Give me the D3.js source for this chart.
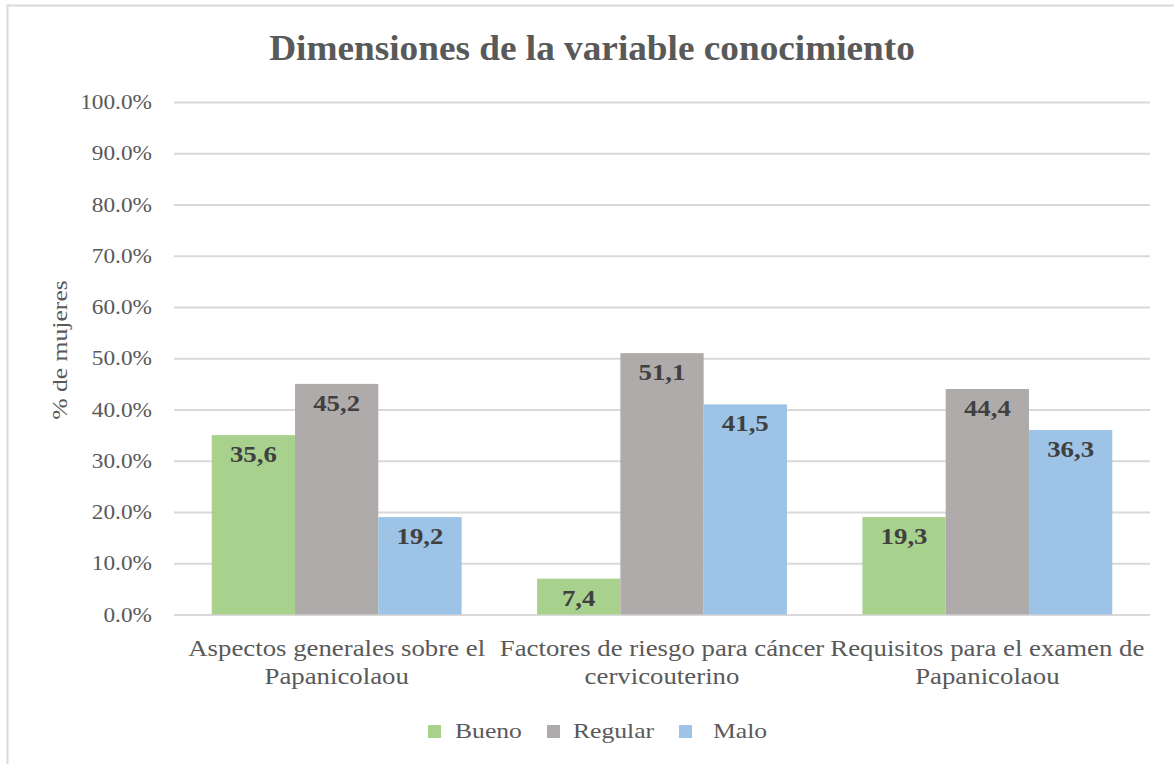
<!DOCTYPE html>
<html>
<head>
<meta charset="utf-8">
<script src="https://cdn.jsdelivr.net/npm/d3@7"></script>
<style>
  html, body { margin: 0; padding: 0; background: #ffffff; }
  svg { display: block; }
</style>
</head>
<body>
<svg id="chart" width="1174" height="764"></svg>
<script>
// ---- data ----
const title = "Dimensiones de la variable conocimiento";
const yAxisTitle = "% de mujeres";
const categories = [
  ["Aspectos generales sobre el", "Papanicolaou"],
  ["Factores de riesgo para cáncer", "cervicouterino"],
  ["Requisitos para el examen de", "Papanicolaou"]
];
const seriesNames = ["Bueno", "Regular", "Malo"];
const seriesColors = ["#a9d18e", "#afabab", "#9dc3e6"];
// bar heights as drawn in the picture (percent)
const bueno = [35, 7, 19];
const regular = [45, 51, 44];
const malo = [19, 41, 36];
// data labels as printed on the bars
const buenoLabels = ["35,6", "7,4", "19,3"];
const regularLabels = ["45,2", "51,1", "44,4"];
const maloLabels = ["19,2", "41,5", "36,3"];
const yTicks = [0, 10, 20, 30, 40, 50, 60, 70, 80, 90, 100];

const seriesValues = [bueno, regular, malo];
const seriesLabels = [buenoLabels, regularLabels, maloLabels];

// ---- font detection ----
const ctx = document.createElement("canvas").getContext("2d");
function measure(font, str) { ctx.font = font; return ctx.measureText(str).width; }
function available(f) {
  const s = "abcdefghijklmnopqrstuvwxyzABCDEFGHIJ0123456789%";
  return measure(`72px monospace`, s) !== measure(`72px "${f}", monospace`, s) ||
         measure(`72px sans-serif`, s) !== measure(`72px "${f}", sans-serif`, s);
}
const candidates = ["Liberation Serif", "Times New Roman", "Tinos", "Nimbus Roman", "DejaVu Serif", "Noto Serif"];
const serifFont = candidates.find(available) || "serif";
const FF = `"${serifFont}", serif`;

// horizontal stretch so text widths match the picture
const sx = 297 / measure(`23px ${FF}`, "Aspectos generales sobre el");
const sxTitle = 646 / measure(`bold 36px ${FF}`, title);

// ---- layout ----
const svg = d3.select("#chart").style("font-family", FF);
const W = 1174, H = 764;
const plot = { left: 174, right: 1150, top: 102, bottom: 614.5 };
const textColor = "#595959";

// outer frame
svg.append("rect")
  .attr("x", 7.5).attr("y", 5.5)
  .attr("width", W + 10).attr("height", H + 10)
  .attr("fill", "none").attr("stroke", "#d9d9d9").attr("stroke-width", 2);

const x0 = d3.scaleBand()
  .domain(d3.range(categories.length))
  .range([plot.left, plot.right])
  .paddingInner(0.232).paddingOuter(0.116);
const x1 = d3.scaleBand()
  .domain(d3.range(seriesNames.length))
  .range([0, x0.bandwidth()])
  .padding(0);
const y = d3.scaleLinear().domain([0, 100]).range([plot.bottom, plot.top]);

// gridlines + tick labels
const yAxis = d3.axisLeft(y)
  .tickValues(yTicks)
  .tickSize(-(plot.right - plot.left))
  .tickPadding(22)
  .tickFormat(d => d3.format(".1f")(d) + "%");
const gAxis = svg.append("g")
  .attr("transform", `translate(${plot.left},0)`)
  .call(yAxis);
gAxis.select(".domain").remove();
gAxis.selectAll(".tick line").attr("stroke", "#d9d9d9").attr("stroke-width", 2);
gAxis.selectAll(".tick text")
  .attr("x", 0).attr("dy", "0.33em")
  .attr("transform", `translate(-22,0) scale(${sx},1)`)
  .attr("fill", textColor)
  .style("font-size", "20px")
  .style("font-family", FF);

// bars
const groups = svg.append("g").selectAll("g")
  .data(categories.map((c, i) => i))
  .join("g")
  .attr("transform", i => `translate(${x0(i)},0)`);

const cells = i => seriesValues.map((s, k) => ({ k, v: s[i], label: seriesLabels[k][i] }));

groups.selectAll("rect")
  .data(cells)
  .join("rect")
  .attr("x", d => x1(d.k))
  .attr("y", d => y(d.v))
  .attr("width", x1.bandwidth())
  .attr("height", d => y(0) - y(d.v))
  .attr("fill", d => seriesColors[d.k]);

groups.selectAll("text.lbl")
  .data(cells)
  .join("text")
  .attr("class", "lbl")
  .attr("transform", d => `translate(${x1(d.k) + x1.bandwidth() / 2},${y(d.v) + 27}) scale(${sx},1)`)
  .attr("text-anchor", "middle")
  .attr("fill", "#404040")
  .style("font-size", "23px")
  .style("font-weight", "bold")
  .text(d => d.label);

// category labels
categories.forEach((lines, i) => {
  lines.forEach((line, j) => {
    svg.append("text")
      .attr("transform", `translate(${x0(i) + x0.bandwidth() / 2},${656 + j * 28}) scale(${sx},1)`)
      .attr("text-anchor", "middle")
      .attr("fill", textColor)
      .style("font-size", "23px")
      .text(line);
  });
});

// title
svg.append("text")
  .attr("transform", `translate(592,60) scale(${sxTitle},1)`)
  .attr("text-anchor", "middle")
  .attr("fill", textColor)
  .style("font-size", "36px")
  .style("font-weight", "bold")
  .text(title);

// y axis title
svg.append("text")
  .attr("transform", `translate(67,350) rotate(-90) scale(${sx},1)`)
  .attr("text-anchor", "middle")
  .attr("fill", textColor)
  .style("font-size", "22px")
  .text(yAxisTitle);

// legend
const legendX = [428, 547, 679];
const legendTextDx = [27, 26, 34];
const leg = svg.append("g").selectAll("g")
  .data(seriesNames)
  .join("g")
  .attr("transform", (d, i) => `translate(${legendX[i]},725)`);
leg.append("rect")
  .attr("width", 13).attr("height", 13)
  .attr("fill", (d, i) => seriesColors[i]);
leg.append("text")
  .attr("transform", (d, i) => `translate(${legendTextDx[i]},12.5) scale(${sx},1)`)
  .attr("fill", textColor)
  .style("font-size", "22px")
  .text(d => d);
</script>
</body>
</html>
